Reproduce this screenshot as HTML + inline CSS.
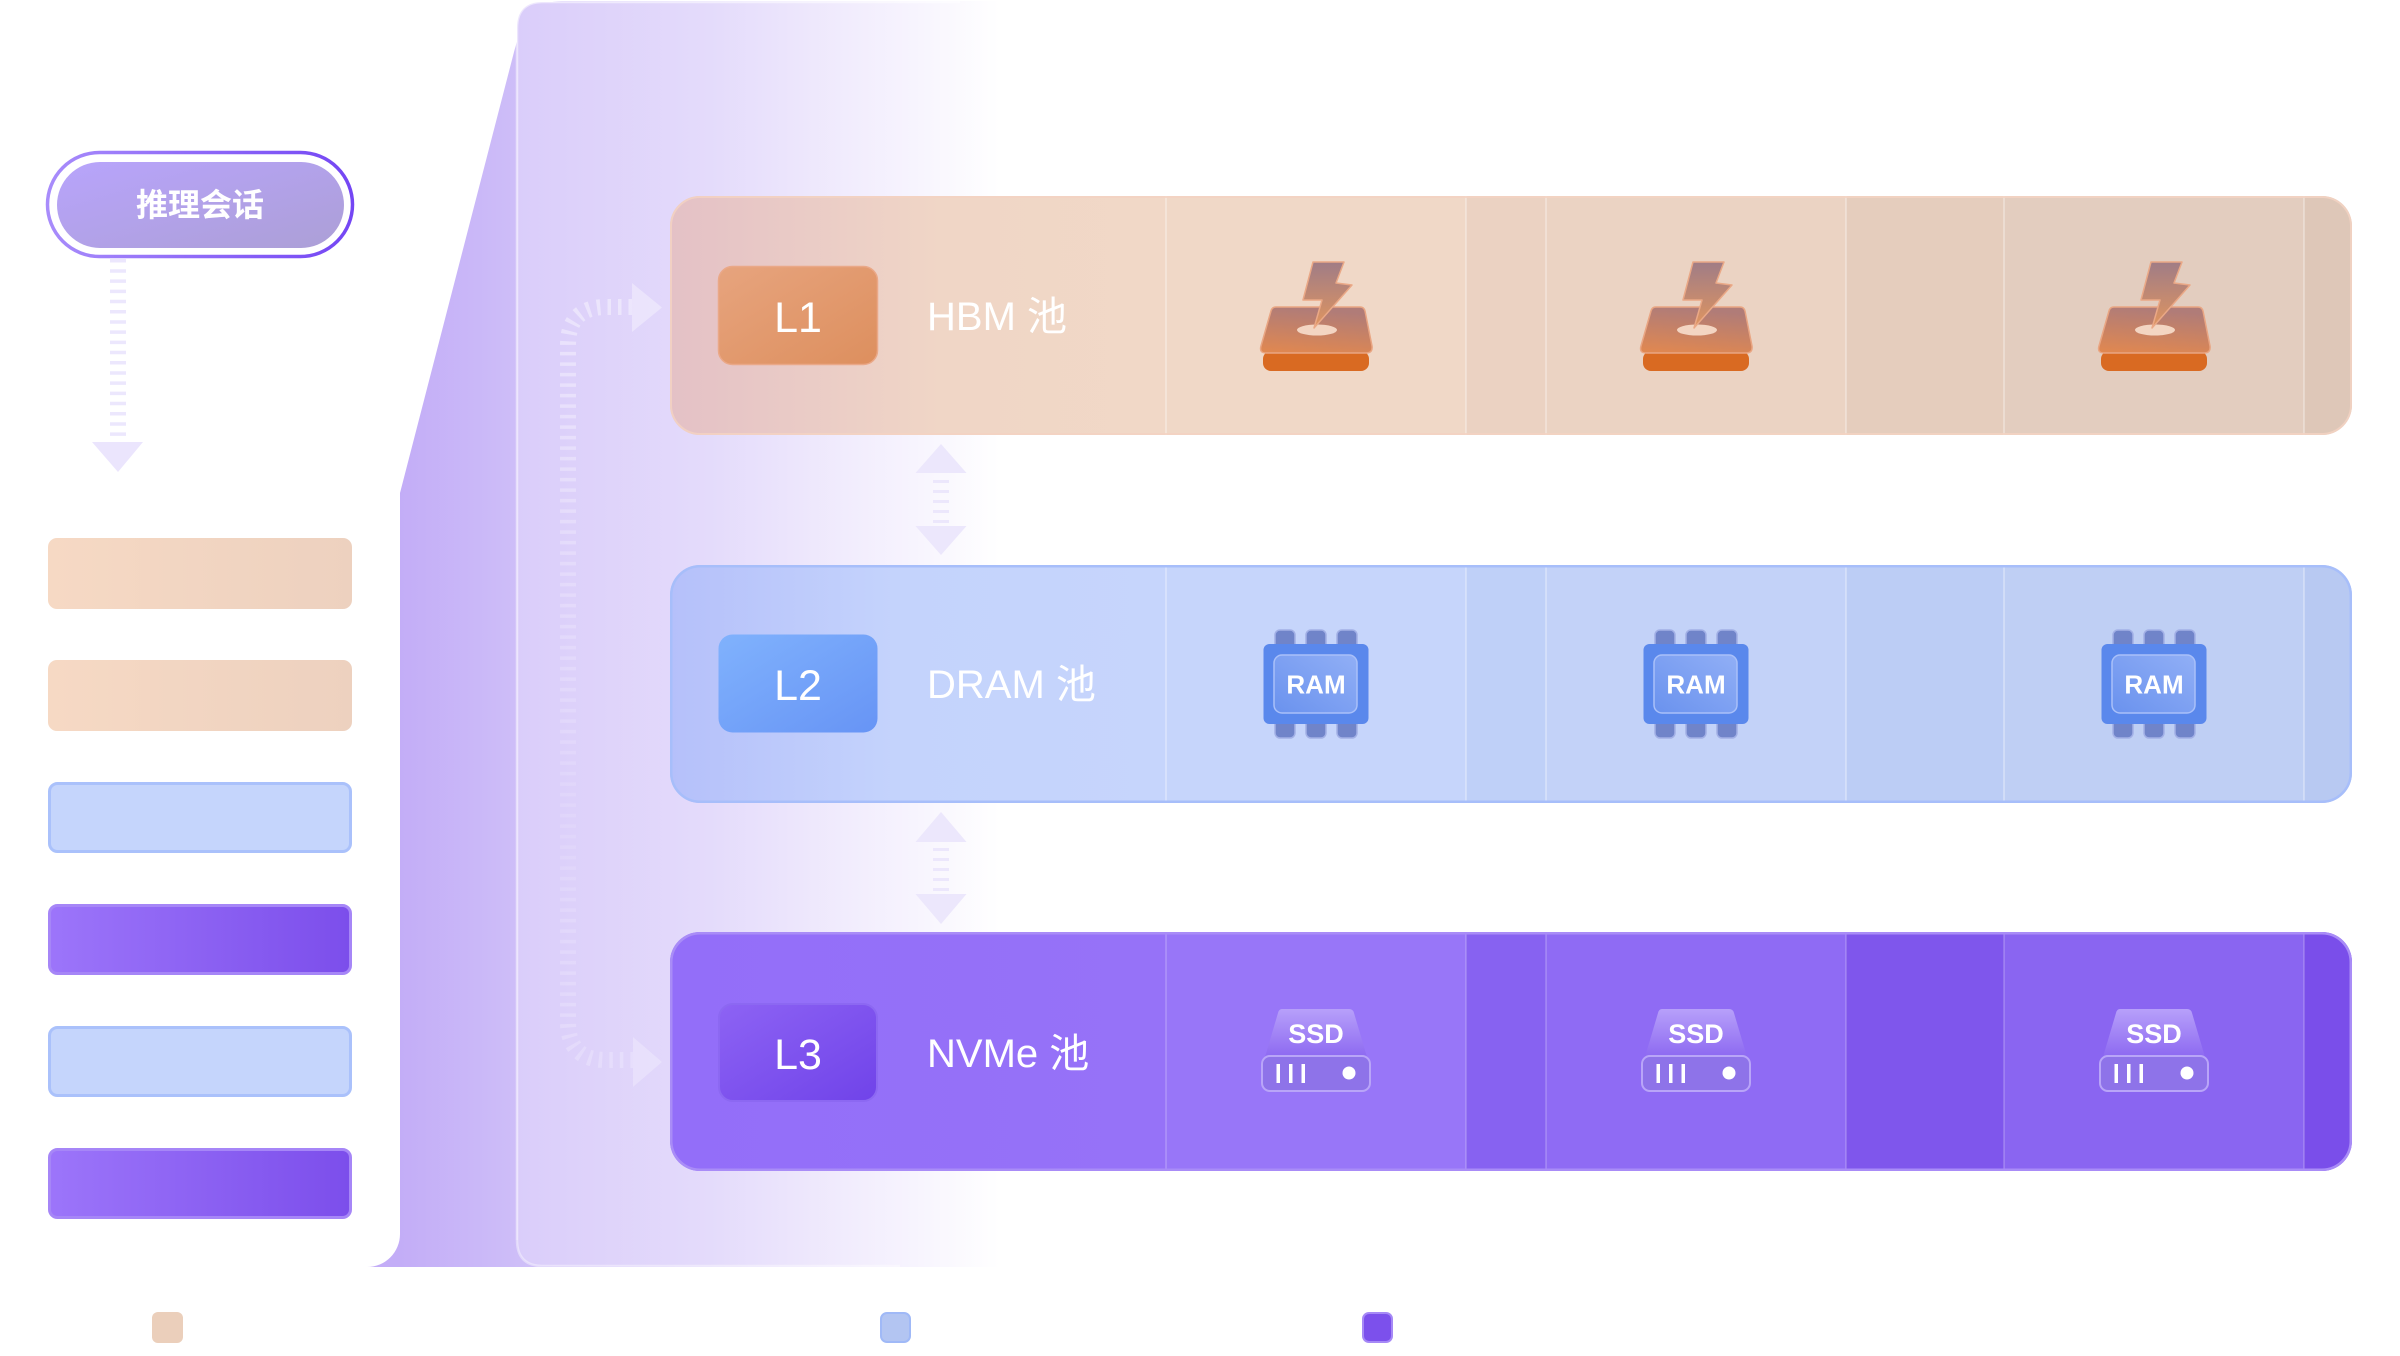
<!DOCTYPE html>
<html><head><meta charset="utf-8"><style>
html,body{margin:0;padding:0;background:#fff;}
svg{display:block;}
.lbl{font-family:"Liberation Sans","Noto Sans CJK SC",sans-serif;fill:#fff;}
.cjk{font-family:"Liberation Sans","Noto Sans CJK SC",sans-serif;}
</style></head><body>
<svg width="2400" height="1356" viewBox="0 0 2400 1356" xmlns="http://www.w3.org/2000/svg">
<defs>
  <linearGradient id="bgA" gradientUnits="userSpaceOnUse" x1="400" y1="0" x2="1000" y2="0">
    <stop offset="0" stop-color="#c3adf7"/>
    <stop offset="0.2" stop-color="#cebef8"/>
    <stop offset="0.5" stop-color="#e1d8fb"/>
    <stop offset="0.75" stop-color="#f1ecfd"/>
    <stop offset="1" stop-color="#ffffff"/>
  </linearGradient>
  <linearGradient id="bgB" gradientUnits="userSpaceOnUse" x1="517" y1="0" x2="1000" y2="0">
    <stop offset="0" stop-color="#dacdfa"/>
    <stop offset="0.4" stop-color="#e4dbfb"/>
    <stop offset="0.7" stop-color="#f2edfd"/>
    <stop offset="1" stop-color="#ffffff" stop-opacity="0"/>
  </linearGradient>
  <linearGradient id="dashG" gradientUnits="userSpaceOnUse" x1="0" y1="290" x2="0" y2="1070">
    <stop offset="0" stop-color="#ffffff" stop-opacity="0.42"/>
    <stop offset="0.35" stop-color="#ffffff" stop-opacity="0.22"/>
    <stop offset="0.7" stop-color="#ffffff" stop-opacity="0.1"/>
    <stop offset="1" stop-color="#ffffff" stop-opacity="0.22"/>
  </linearGradient>
  <linearGradient id="pillStroke" x1="0" y1="0" x2="1" y2="0">
    <stop offset="0" stop-color="#a88cfb"/>
    <stop offset="1" stop-color="#7446f4"/>
  </linearGradient>
  <linearGradient id="pillFill" x1="0" y1="0" x2="1" y2="1">
    <stop offset="0" stop-color="#b8a4fc"/>
    <stop offset="1" stop-color="#ac9fd6"/>
  </linearGradient>
  <linearGradient id="barO" x1="0" y1="0" x2="1" y2="0">
    <stop offset="0" stop-color="#f6d9c4"/>
    <stop offset="1" stop-color="#edd1bf"/>
  </linearGradient>
  <linearGradient id="barP" x1="0" y1="0" x2="1" y2="0">
    <stop offset="0" stop-color="#9c75fa"/>
    <stop offset="1" stop-color="#7c4eeb"/>
  </linearGradient>
  <linearGradient id="l1a" gradientUnits="userSpaceOnUse" x1="670" y1="0" x2="1166" y2="0">
    <stop offset="0" stop-color="#e4c1c6"/>
    <stop offset="0.55" stop-color="#f0d6c6"/>
    <stop offset="1" stop-color="#f1d8c7"/>
  </linearGradient>
  <linearGradient id="l2a" gradientUnits="userSpaceOnUse" x1="670" y1="0" x2="1166" y2="0">
    <stop offset="0" stop-color="#b5c0fa"/>
    <stop offset="0.45" stop-color="#c4d3fc"/>
    <stop offset="1" stop-color="#c6d5fc"/>
  </linearGradient>
  <linearGradient id="l3a" gradientUnits="userSpaceOnUse" x1="670" y1="0" x2="1166" y2="0">
    <stop offset="0" stop-color="#936ef9"/>
    <stop offset="1" stop-color="#9672f8"/>
  </linearGradient>
  <linearGradient id="box1" x1="0" y1="0" x2="1" y2="1">
    <stop offset="0" stop-color="#e7a47e"/>
    <stop offset="1" stop-color="#dd8f5e"/>
  </linearGradient>
  <linearGradient id="box2" x1="0" y1="0" x2="1" y2="1">
    <stop offset="0" stop-color="#80b2fd"/>
    <stop offset="1" stop-color="#6794f5"/>
  </linearGradient>
  <linearGradient id="box3" x1="0" y1="0" x2="1" y2="1">
    <stop offset="0" stop-color="#8d63f4"/>
    <stop offset="1" stop-color="#7043e9"/>
  </linearGradient>
  <linearGradient id="hbmPlat" x1="0.2" y1="0" x2="0" y2="1">
    <stop offset="0" stop-color="#b07c78"/>
    <stop offset="1" stop-color="#e2884f"/>
  </linearGradient>
  <linearGradient id="hbmBolt" x1="0" y1="0" x2="0" y2="1">
    <stop offset="0" stop-color="#a07c86"/>
    <stop offset="1" stop-color="#e0955f"/>
  </linearGradient>
  <linearGradient id="ramIn" x1="1" y1="0" x2="0" y2="1">
    <stop offset="0" stop-color="#91aff6"/>
    <stop offset="1" stop-color="#6a92ee"/>
  </linearGradient>
  <linearGradient id="ssdTop" x1="0" y1="0" x2="0" y2="1">
    <stop offset="0" stop-color="#b7a0fa"/>
    <stop offset="1" stop-color="#8d69f1"/>
  </linearGradient>
  <clipPath id="c1"><rect x="670" y="196" width="1682" height="239" rx="30"/></clipPath>
  <clipPath id="c2"><rect x="670" y="565" width="1682" height="238" rx="30"/></clipPath>
  <clipPath id="c3"><rect x="670" y="932" width="1682" height="239" rx="30"/></clipPath>
</defs>

<rect width="2400" height="1356" fill="#fff"/>

<!-- backdrop -->
<path d="M400 1234 L400 493 L514 52 Q527 1 562 1 L1000 1 L1000 1267 L367 1267 A33 33 0 0 0 400 1234 Z" fill="url(#bgA)"/>
<path d="M517 1240 L517 28 Q517 2 543 2 L1000 2 L1000 1266 L543 1266 Q517 1266 517 1240 Z" fill="url(#bgB)"/>
<path d="M517 1240 L517 28 Q517 2 543 2 L960 2" fill="none" stroke="#ffffff" stroke-opacity="0.5" stroke-width="2.5"/>
<path d="M517 1240 Q517 1266 543 1266 L900 1266" fill="none" stroke="#ffffff" stroke-opacity="0.4" stroke-width="2.5"/>

<!-- curved dashed connector -->
<path d="M632 307 L606 307 Q568 307 568 345 L568 1022 Q568 1060 606 1060 L633 1060" fill="none" stroke="url(#dashG)" stroke-width="16" stroke-dasharray="3.5 7"/>
<polygon points="632,283 632,332 662,307.5" fill="#ffffff" fill-opacity="0.35"/>
<polygon points="633,1037 633,1087 662,1062" fill="#ffffff" fill-opacity="0.25"/>

<!-- pill -->
<rect x="47.5" y="152.5" width="305" height="104" rx="52" fill="#fff" stroke="url(#pillStroke)" stroke-width="3.5"/>
<rect x="57" y="162" width="287" height="86" rx="43" fill="url(#pillFill)"/>
<text x="200" y="216" text-anchor="middle" class="cjk" font-size="32" font-weight="bold" fill="#ffffff">推理会话</text>

<!-- pill connector -->
<line x1="118" y1="259" x2="118" y2="438" stroke="#ece7fd" stroke-width="16" stroke-dasharray="3.5 6.7"/>
<polygon points="92,442 143,442 118,472" fill="#ebe5fd"/>

<!-- left bars -->
<rect x="48" y="538" width="304" height="71" rx="9" fill="url(#barO)"/>
<rect x="48" y="660" width="304" height="71" rx="9" fill="url(#barO)"/>
<rect x="49.5" y="783.5" width="301" height="68" rx="8" fill="#c5d5fc" stroke="#aac1fb" stroke-width="3"/>
<rect x="49.5" y="905.5" width="301" height="68" rx="8" fill="url(#barP)" stroke="#a686f7" stroke-width="3"/>
<rect x="49.5" y="1027.5" width="301" height="68" rx="8" fill="#c5d5fc" stroke="#aac1fb" stroke-width="3"/>
<rect x="49.5" y="1149.5" width="301" height="68" rx="8" fill="url(#barP)" stroke="#a686f7" stroke-width="3"/>

<!-- L1 row -->
<g clip-path="url(#c1)">
  <rect x="670" y="196" width="496" height="239" fill="url(#l1a)"/>
  <rect x="1166" y="196" width="300" height="239" fill="#f0d8c7"/>
  <rect x="1466" y="196" width="80" height="239" fill="#ebd2c2"/>
  <rect x="1546" y="196" width="300" height="239" fill="#ebd3c3"/>
  <rect x="1846" y="196" width="158" height="239" fill="#e5cdbd"/>
  <rect x="2004" y="196" width="300" height="239" fill="#e3cdbf"/>
  <rect x="2304" y="196" width="48" height="239" fill="#dec7b8"/>
  <g stroke="#ffffff" stroke-opacity="0.3" stroke-width="2">
    <line x1="1166" y1="196" x2="1166" y2="435"/><line x1="1466" y1="196" x2="1466" y2="435"/>
    <line x1="1546" y1="196" x2="1546" y2="435"/><line x1="1846" y1="196" x2="1846" y2="435"/>
    <line x1="2004" y1="196" x2="2004" y2="435"/><line x1="2304" y1="196" x2="2304" y2="435"/>
  </g>
</g>
<rect x="671" y="197" width="1680" height="237" rx="29" fill="none" stroke="#f3d2c2" stroke-opacity="0.85" stroke-width="2"/>
<rect x="718.5" y="266.5" width="159" height="98" rx="14" fill="url(#box1)" stroke="#eaa888" stroke-width="1.5"/>
<text x="798" y="332" text-anchor="middle" class="lbl" font-size="43">L1</text>
<text x="927" y="330" class="lbl" font-size="40">HBM 池</text>

<!-- L2 row -->
<g clip-path="url(#c2)">
  <rect x="670" y="565" width="496" height="238" fill="url(#l2a)"/>
  <rect x="1166" y="565" width="300" height="238" fill="#c6d5fb"/>
  <rect x="1466" y="565" width="80" height="238" fill="#bfd0f8"/>
  <rect x="1546" y="565" width="300" height="238" fill="#c3d2f8"/>
  <rect x="1846" y="565" width="158" height="238" fill="#bccdf5"/>
  <rect x="2004" y="565" width="300" height="238" fill="#bfcff4"/>
  <rect x="2304" y="565" width="48" height="238" fill="#b8c9f2"/>
  <g stroke="#ffffff" stroke-opacity="0.3" stroke-width="2">
    <line x1="1166" y1="565" x2="1166" y2="803"/><line x1="1466" y1="565" x2="1466" y2="803"/>
    <line x1="1546" y1="565" x2="1546" y2="803"/><line x1="1846" y1="565" x2="1846" y2="803"/>
    <line x1="2004" y1="565" x2="2004" y2="803"/><line x1="2304" y1="565" x2="2304" y2="803"/>
  </g>
</g>
<rect x="671.25" y="566.25" width="1679.5" height="235.5" rx="29" fill="none" stroke="#a7befa" stroke-width="2.5"/>
<rect x="718.5" y="634.5" width="159" height="98" rx="14" fill="url(#box2)"/>
<text x="798" y="700" text-anchor="middle" class="lbl" font-size="43">L2</text>
<text x="927" y="698" class="lbl" font-size="40">DRAM 池</text>

<!-- L3 row -->
<g clip-path="url(#c3)">
  <rect x="670" y="932" width="496" height="239" fill="url(#l3a)"/>
  <rect x="1166" y="932" width="300" height="239" fill="#9876f8"/>
  <rect x="1466" y="932" width="80" height="239" fill="#8762f1"/>
  <rect x="1546" y="932" width="300" height="239" fill="#8f6bf4"/>
  <rect x="1846" y="932" width="158" height="239" fill="#7f56ec"/>
  <rect x="2004" y="932" width="300" height="239" fill="#8a65f1"/>
  <rect x="2304" y="932" width="48" height="239" fill="#7a4eea"/>
  <g stroke="#ffffff" stroke-opacity="0.18" stroke-width="2">
    <line x1="1166" y1="932" x2="1166" y2="1171"/><line x1="1466" y1="932" x2="1466" y2="1171"/>
    <line x1="1546" y1="932" x2="1546" y2="1171"/><line x1="1846" y1="932" x2="1846" y2="1171"/>
    <line x1="2004" y1="932" x2="2004" y2="1171"/><line x1="2304" y1="932" x2="2304" y2="1171"/>
  </g>
</g>
<rect x="671.25" y="933.25" width="1679.5" height="236.5" rx="29" fill="none" stroke="#a98cf7" stroke-width="2.5"/>
<rect x="719" y="1004" width="158" height="97" rx="14" fill="url(#box3)" stroke="#8c68f2" stroke-width="2"/>
<text x="798" y="1069" text-anchor="middle" class="lbl" font-size="43">L3</text>
<text x="927" y="1067" class="lbl" font-size="40">NVMe 池</text>

<!-- double arrows -->
<g fill="#ece7fc">
  <polygon points="915.5,473 966.5,473 941,444"/>
  <rect x="933" y="480" width="16" height="3"/><rect x="933" y="490" width="16" height="3"/>
  <rect x="933" y="500" width="16" height="3"/><rect x="933" y="510" width="16" height="3"/>
  <rect x="933" y="520" width="16" height="3"/>
  <polygon points="915.5,526 966.5,526 941,555"/>
  <polygon points="915.5,842 966.5,842 941,812"/>
  <rect x="933" y="848" width="16" height="3"/><rect x="933" y="858" width="16" height="3"/>
  <rect x="933" y="868" width="16" height="3"/><rect x="933" y="878" width="16" height="3"/>
  <rect x="933" y="888" width="16" height="3"/>
  <polygon points="915.5,894 966.5,894 941,924"/>
</g>

<!-- HBM icons -->
<g transform="translate(1316,316)">
  <rect x="-53" y="35" width="106" height="20" rx="8" fill="#d96a22"/>
  <path d="M-40 -9 L44 -9 Q48 -9 49 -5 L56 30 Q57 37 50 37 L-50 37 Q-57 37 -55 30 L-45 -5 Q-44 -9 -40 -9 Z" fill="url(#hbmPlat)" stroke="#e9a582" stroke-width="1.5"/>
  <ellipse cx="1" cy="14" rx="20" ry="5.5" fill="#f3d5c2"/>
  <path d="M-3 -54 L28 -54 L20 -33 L36 -31 L-2 12 L6 -16 L-13 -16 Z" fill="url(#hbmBolt)" stroke="#eaa886" stroke-width="1.5" stroke-linejoin="round"/>
</g>
<g transform="translate(1696,316)">
  <rect x="-53" y="35" width="106" height="20" rx="8" fill="#d96a22"/>
  <path d="M-40 -9 L44 -9 Q48 -9 49 -5 L56 30 Q57 37 50 37 L-50 37 Q-57 37 -55 30 L-45 -5 Q-44 -9 -40 -9 Z" fill="url(#hbmPlat)" stroke="#e9a582" stroke-width="1.5"/>
  <ellipse cx="1" cy="14" rx="20" ry="5.5" fill="#f3d5c2"/>
  <path d="M-3 -54 L28 -54 L20 -33 L36 -31 L-2 12 L6 -16 L-13 -16 Z" fill="url(#hbmBolt)" stroke="#eaa886" stroke-width="1.5" stroke-linejoin="round"/>
</g>
<g transform="translate(2154,316)">
  <rect x="-53" y="35" width="106" height="20" rx="8" fill="#d96a22"/>
  <path d="M-40 -9 L44 -9 Q48 -9 49 -5 L56 30 Q57 37 50 37 L-50 37 Q-57 37 -55 30 L-45 -5 Q-44 -9 -40 -9 Z" fill="url(#hbmPlat)" stroke="#e9a582" stroke-width="1.5"/>
  <ellipse cx="1" cy="14" rx="20" ry="5.5" fill="#f3d5c2"/>
  <path d="M-3 -54 L28 -54 L20 -33 L36 -31 L-2 12 L6 -16 L-13 -16 Z" fill="url(#hbmBolt)" stroke="#eaa886" stroke-width="1.5" stroke-linejoin="round"/>
</g>

<!-- RAM icons -->
<g transform="translate(1316,684)">
  <g fill="#7084c9" stroke="#a2b0e6" stroke-width="1.5">
    <rect x="-41" y="-54" width="20" height="20" rx="5"/><rect x="-10" y="-54" width="20" height="20" rx="5"/><rect x="21" y="-54" width="20" height="20" rx="5"/>
    <rect x="-41" y="34" width="20" height="20" rx="5"/><rect x="-10" y="34" width="20" height="20" rx="5"/><rect x="21" y="34" width="20" height="20" rx="5"/>
  </g>
  <rect x="-52.5" y="-40" width="105" height="80" rx="6" fill="#5a88ec"/>
  <rect x="-42" y="-29" width="83" height="58" rx="8" fill="url(#ramIn)" stroke="#a9c0f9" stroke-width="1.5"/>
  <text x="0" y="9.5" text-anchor="middle" class="lbl" font-size="26" font-weight="bold">RAM</text>
</g>
<g transform="translate(1696,684)">
  <g fill="#7084c9" stroke="#a2b0e6" stroke-width="1.5">
    <rect x="-41" y="-54" width="20" height="20" rx="5"/><rect x="-10" y="-54" width="20" height="20" rx="5"/><rect x="21" y="-54" width="20" height="20" rx="5"/>
    <rect x="-41" y="34" width="20" height="20" rx="5"/><rect x="-10" y="34" width="20" height="20" rx="5"/><rect x="21" y="34" width="20" height="20" rx="5"/>
  </g>
  <rect x="-52.5" y="-40" width="105" height="80" rx="6" fill="#5a88ec"/>
  <rect x="-42" y="-29" width="83" height="58" rx="8" fill="url(#ramIn)" stroke="#a9c0f9" stroke-width="1.5"/>
  <text x="0" y="9.5" text-anchor="middle" class="lbl" font-size="26" font-weight="bold">RAM</text>
</g>
<g transform="translate(2154,684)">
  <g fill="#7084c9" stroke="#a2b0e6" stroke-width="1.5">
    <rect x="-41" y="-54" width="20" height="20" rx="5"/><rect x="-10" y="-54" width="20" height="20" rx="5"/><rect x="21" y="-54" width="20" height="20" rx="5"/>
    <rect x="-41" y="34" width="20" height="20" rx="5"/><rect x="-10" y="34" width="20" height="20" rx="5"/><rect x="21" y="34" width="20" height="20" rx="5"/>
  </g>
  <rect x="-52.5" y="-40" width="105" height="80" rx="6" fill="#5a88ec"/>
  <rect x="-42" y="-29" width="83" height="58" rx="8" fill="url(#ramIn)" stroke="#a9c0f9" stroke-width="1.5"/>
  <text x="0" y="9.5" text-anchor="middle" class="lbl" font-size="26" font-weight="bold">RAM</text>
</g>

<!-- SSD icons -->
<g transform="translate(1316,1052)">
  <path d="M-34 -43 L33 -43 Q37 -43 38 -39 L51 5 L-51 5 L-38 -39 Q-37 -43 -34 -43 Z" fill="url(#ssdTop)"/>
  <text x="0" y="-9" text-anchor="middle" class="lbl" font-size="27" font-weight="bold">SSD</text>
  <rect x="-54" y="4" width="108" height="35" rx="8" fill="#8e73e9" stroke="#b9a5f8" stroke-width="2"/>
  <g fill="#fff"><rect x="-39.5" y="12" width="3.5" height="19"/><rect x="-27" y="12" width="3.5" height="19"/><rect x="-14.5" y="12" width="3.5" height="19"/></g>
  <circle cx="33" cy="21" r="6.5" fill="#fff"/>
</g>
<g transform="translate(1696,1052)">
  <path d="M-34 -43 L33 -43 Q37 -43 38 -39 L51 5 L-51 5 L-38 -39 Q-37 -43 -34 -43 Z" fill="url(#ssdTop)"/>
  <text x="0" y="-9" text-anchor="middle" class="lbl" font-size="27" font-weight="bold">SSD</text>
  <rect x="-54" y="4" width="108" height="35" rx="8" fill="#8e73e9" stroke="#b9a5f8" stroke-width="2"/>
  <g fill="#fff"><rect x="-39.5" y="12" width="3.5" height="19"/><rect x="-27" y="12" width="3.5" height="19"/><rect x="-14.5" y="12" width="3.5" height="19"/></g>
  <circle cx="33" cy="21" r="6.5" fill="#fff"/>
</g>
<g transform="translate(2154,1052)">
  <path d="M-34 -43 L33 -43 Q37 -43 38 -39 L51 5 L-51 5 L-38 -39 Q-37 -43 -34 -43 Z" fill="url(#ssdTop)"/>
  <text x="0" y="-9" text-anchor="middle" class="lbl" font-size="27" font-weight="bold">SSD</text>
  <rect x="-54" y="4" width="108" height="35" rx="8" fill="#8e73e9" stroke="#b9a5f8" stroke-width="2"/>
  <g fill="#fff"><rect x="-39.5" y="12" width="3.5" height="19"/><rect x="-27" y="12" width="3.5" height="19"/><rect x="-14.5" y="12" width="3.5" height="19"/></g>
  <circle cx="33" cy="21" r="6.5" fill="#fff"/>
</g>

<!-- legend squares -->
<rect x="152" y="1312" width="31" height="31" rx="6" fill="#ebcfbb"/>
<rect x="881" y="1313" width="29" height="29" rx="6" fill="#b3c5f2" stroke="#a0b9f7" stroke-width="2"/>
<rect x="1363" y="1313" width="29" height="29" rx="6" fill="#7c50ec" stroke="#a689f6" stroke-width="2"/>
</svg>
</body></html>
